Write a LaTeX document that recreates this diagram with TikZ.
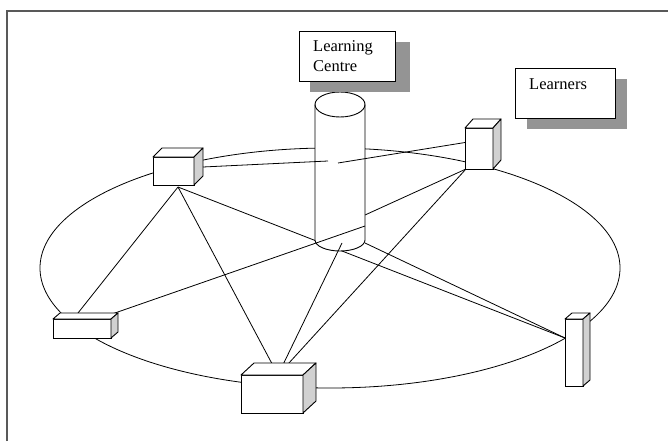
\documentclass[tikz,border=0pt]{standalone}
\usepackage{fontspec}
\setmainfont{Liberation Serif}
\usetikzlibrary{shapes.geometric}
\tikzset{
  link/.style={line width=0.8pt, black},
  cubefront/.style={draw, fill=white, line width=0.9pt, inner sep=0pt, outer sep=0pt},
  cubetop/.style={draw, fill=white, line width=0.9pt, line join=round},
  cubeside/.style={draw, fill=black!18, line width=0.9pt, line join=round},
  label box/.style={draw, fill=white, line width=0.9pt, inner sep=0pt, outer sep=0pt, anchor=north west},
  shadow box/.style={fill=black!42, draw=none},
  lbl/.style={font=\fontsize{16.5}{20}\selectfont, align=left, inner sep=0pt, anchor=north west}
}
% cuboid: name, x, y, width, height, depth dx, depth dy
\newcommand\mycube[7]{%
  \node[cubefront, minimum width=#4pt, minimum height=#5pt, anchor=north west] (#1) at (#2,#3) {};
  \filldraw[cubetop] (#1.north west) -- ++(#6,#7) -- ++(#4,0) -- (#1.north east) -- cycle;
  \filldraw[cubeside] (#1.north east) -- ++(#6,#7) -- ++(0,#5) -- (#1.south east) -- cycle;
}
\begin{document}
\begin{tikzpicture}[x=1pt, y=-1pt]
\useasboundingbox (0,0) rectangle (668,441);
% outer frame
\draw[line width=1.6pt, black!65] (7,441) -- (7,11) -- (668,11);

% ring of learners
\node[ellipse, draw, line width=0.8pt, minimum width=580pt, minimum height=240pt, inner sep=0pt] (ring) at (330,268) {};

% attachment points
\coordinate (aHub) at (178,187);
\coordinate (bHub) at (466,169);
\coordinate (cTop) at (78,313);
\coordinate (cRight) at (112,314);
\coordinate (dTop) at (278,375);
\coordinate (eLeft) at (565,338);
\coordinate (cylBM) at (342,243);
\coordinate (cylBR) at (365,243);
\coordinate (cylR) at (365,215);
\coordinate (cylRlow) at (365,226);

% links between learners
\draw[link] (aHub) -- (cTop);
\draw[link] (aHub) -- (dTop);
\draw[link] (aHub) -- (eLeft);
\draw[link] (bHub) -- (dTop);
\draw[link] (bHub) -- (cylR);

% learning centre column
\fill[white] (315,104.5) -- (315,240) arc[start angle=180, end angle=0, x radius=25, y radius=11]
  -- (365,104.5) -- cycle;
\draw[line width=0.9pt] (315,104.5) -- (315,240)
  arc[start angle=180, end angle=0, x radius=25, y radius=11] -- (365,104.5);
\draw[line width=0.9pt] (340,104.5) ellipse [x radius=25, y radius=12.5];

% links to the centre
\draw[link] (cylBM) -- (dTop);
\draw[link] (cylBR) -- (eLeft);
\draw[link] (cRight) -- (cylRlow);

% learners
\mycube{boxA}{153}{157}{41}{28}{9}{-9}
\mycube{boxB}{465}{128}{28}{41}{8}{-9}
\mycube{boxC}{53}{319}{58}{19}{7}{-6}
\mycube{boxD}{241}{375}{62}{38}{13}{-12}
\mycube{boxE}{565}{319}{18}{67}{7}{-6}

\draw[link] (boxA.east) ++(9,-4) -- (328,161);
\draw[link] (boxB.west) ++(0,-6) -- (338,163);

% labels
\fill[shadow box] (310,42) rectangle (410,92);
\node[label box, minimum width=96pt, minimum height=50pt] (lcbox) at (299,31) {};
\node[lbl] (lctext) at (313,40) {Learning\\Centre};
\fill[shadow box] (527,79) rectangle (627,129);
\node[label box, minimum width=100pt, minimum height=50pt] (lbox) at (515,68) {};
\node[lbl] (ltext) at (529,78) {Learners};
\end{tikzpicture}
\end{document}
